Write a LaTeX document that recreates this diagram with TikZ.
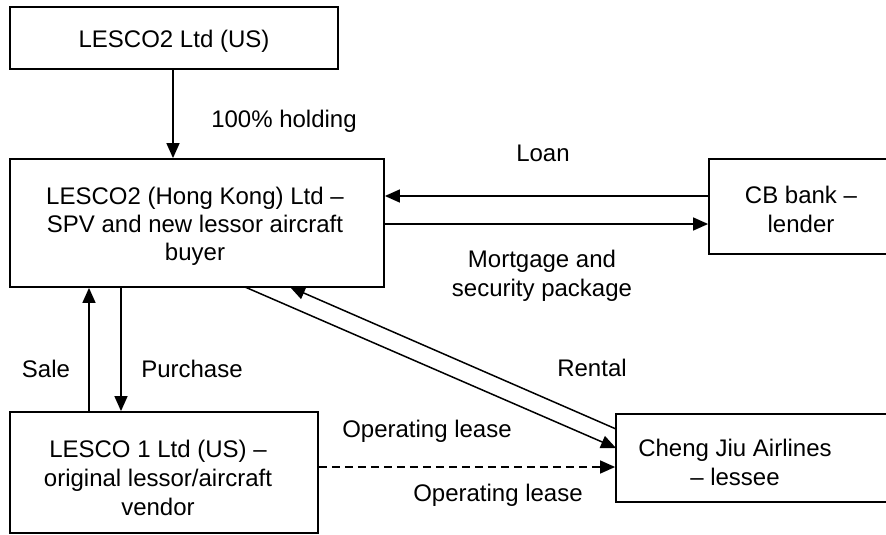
\documentclass[tikz,border=0pt]{standalone}
\usepackage{fontspec}
\setmainfont{Liberation Sans}
\usetikzlibrary{arrows.meta}
\begin{document}
\begin{tikzpicture}[x=1pt,y=-1pt,
  every node/.style={font=\fontsize{24}{29}\selectfont, align=center, inner sep=0pt},
  box/.style={draw, line width=1.8pt, rectangle},
  lbl/.style={},
  arr/.style={line width=1.5pt, -{Triangle[length=15pt,width=13pt]}},
  dashedarr/.style={arr, dash pattern=on 8pt off 5pt}]
\useasboundingbox (0,0) rectangle (886,535);

% entities (frames, with their captions placed separately)
\node[box, minimum width=328pt, minimum height=62pt] (us) at (174,38) {};
\node (ustxt) at (174,41) {LESCO2 Ltd (US)};
\node[box, minimum width=374pt, minimum height=128pt] (hk) at (197,223) {};
\node[font=\fontsize{24}{28}\selectfont] (hktxt) at (195,226)
  {LESCO2 (Hong Kong) Ltd --\\SPV and new lessor aircraft\\buyer};
\node[box, minimum width=184pt, minimum height=95pt] (cb) at (801,206.5) {};
\node (cbtxt) at (801,209) {CB bank --\\lender};
\node[box, minimum width=308pt, minimum height=121pt] (l1) at (164,472.5) {};
\node (l1txt) at (158,478) {LESCO 1 Ltd (US) --\\original lessor/aircraft\\vendor};
\node[box, minimum width=284pt, minimum height=88pt] (cj) at (758,458) {};
\node (cjtxt) at (735,462) {Cheng Jiu Airlines\\-- lessee};

% reference columns and rows for the connectors
\coordinate (holdX) at (173,0);
\coordinate (saleX) at (89,0);
\coordinate (buyX) at (121,0);
\coordinate (loanY) at (0,196);
\coordinate (mortY) at (0,224);
\coordinate (leaseA) at (245,287);
\coordinate (leaseB) at (616,448);
\coordinate (rentA) at (616,429);
\coordinate (rentB) at (290,287);
\coordinate (dashY) at (0,467);

% connectors
\draw[arr] (holdX |- us.south) -- (holdX |- hk.north);
\draw[arr] (cb.west |- loanY) -- (hk.east |- loanY);
\draw[arr] (hk.east |- mortY) -- (cb.west |- mortY);
\draw[arr] (saleX |- l1.north) -- (saleX |- hk.south);
\draw[arr] (buyX |- hk.south) -- (buyX |- l1.north);
\draw[arr] (leaseA) -- (leaseB);
\draw[arr] (rentA) -- (rentB);
\draw[dashedarr] (l1.east |- dashY) -- (cj.west |- dashY);

% labels
\node[lbl] (tHold) at (284,121) {100\% holding};
\node[lbl] (tLoan) at (543,153) {Loan};
\node[lbl] (tMort) at (542,276) {Mortgage and\\security package};
\node[lbl] (tSale) at (46,369) {Sale};
\node[lbl] (tBuy) at (192,369) {Purchase};
\node[lbl] (tRent) at (592,368) {Rental};
\node[lbl] (tOp1) at (427,431) {Operating lease};
\node[lbl] (tOp2) at (498,495) {Operating lease};
\end{tikzpicture}
\end{document}
